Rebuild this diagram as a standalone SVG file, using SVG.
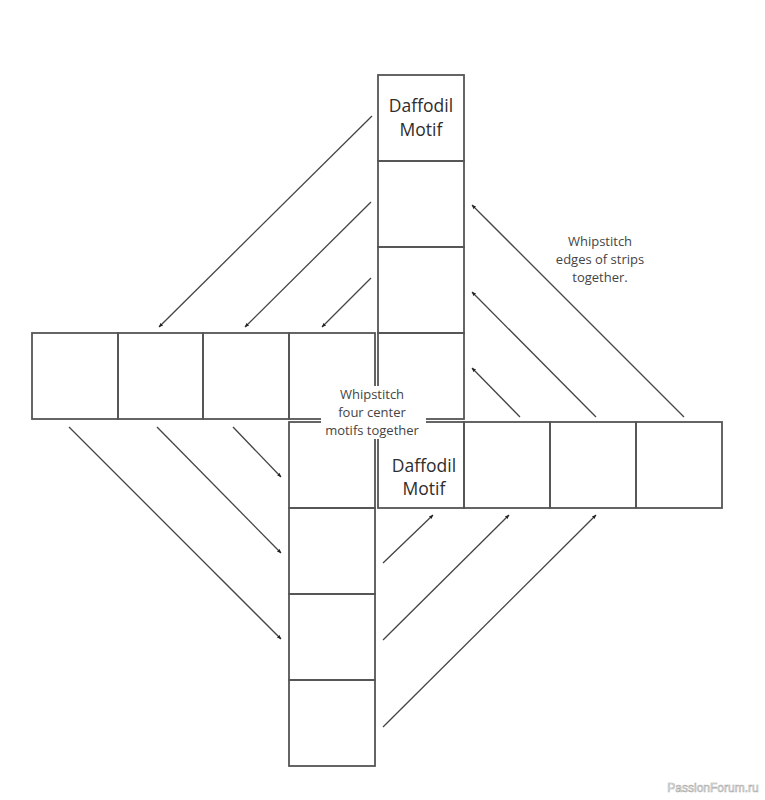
<svg xmlns="http://www.w3.org/2000/svg" width="765" height="800" viewBox="0 0 765 800">
<style>
.box{fill:none;stroke:#555;stroke-width:1.8}
.ln{stroke:#444;stroke-width:1.3;fill:none;marker-end:url(#ah)}
.lbl{font-family:"Open Sans","Liberation Sans",sans-serif;fill:#2e2e2e;text-anchor:middle}
.big{font-size:17.5px}
.sm{font-size:13px;fill:#444}
</style>
<defs>
<marker id="ah" viewBox="0 0 10 10" refX="9" refY="5" markerWidth="4.5" markerHeight="4.5" markerUnits="userSpaceOnUse" orient="auto">
<path d="M0,1 L10,5 L0,9 Z" fill="#222"/>
</marker>
</defs>
<rect width="765" height="800" fill="#fff"/>
<g id="top-strip">
<rect class="box" x="378" y="75" width="86" height="86"/>
<rect class="box" x="378" y="161" width="86" height="86"/>
<rect class="box" x="378" y="247" width="86" height="86"/>
<rect class="box" x="378" y="333" width="86" height="86"/>
<text class="lbl big" x="421" y="112">Daffodil</text>
<text class="lbl big" x="421" y="136">Motif</text>
</g>
<g id="left-strip">
<rect class="box" x="32" y="333" width="86" height="86"/>
<rect class="box" x="118" y="333" width="85" height="86"/>
<rect class="box" x="203" y="333" width="86" height="86"/>
<rect class="box" x="289" y="333" width="86" height="86"/>
</g>
<g id="right-strip">
<rect class="box" x="378" y="422" width="86" height="86"/>
<rect class="box" x="464" y="422" width="86" height="86"/>
<rect class="box" x="550" y="422" width="86" height="86"/>
<rect class="box" x="636" y="422" width="86" height="86"/>
<text class="lbl big" x="424" y="472">Daffodil</text>
<text class="lbl big" x="424" y="495">Motif</text>
</g>
<g id="bottom-strip">
<rect class="box" x="289" y="422" width="86" height="86"/>
<rect class="box" x="289" y="508" width="86" height="86"/>
<rect class="box" x="289" y="594" width="86" height="86"/>
<rect class="box" x="289" y="680" width="86" height="86"/>
</g>
<g id="center-note">
<rect x="321" y="386" width="105" height="53" fill="#fff"/>
<text class="lbl sm" x="372" y="399">Whipstitch</text>
<text class="lbl sm" x="372" y="417">four center</text>
<text class="lbl sm" x="372" y="435">motifs together</text>
</g>
<g id="edge-note">
<text class="lbl sm" x="600" y="246">Whipstitch</text>
<text class="lbl sm" x="600" y="264">edges of strips</text>
<text class="lbl sm" x="600" y="282">together.</text>
</g>
<g id="connectors">
<line class="ln" x1="372" y1="116" x2="159" y2="327"/>
<line class="ln" x1="371" y1="202" x2="245" y2="327"/>
<line class="ln" x1="371" y1="278" x2="322" y2="327"/>
<line class="ln" x1="684" y1="417" x2="472" y2="205"/>
<line class="ln" x1="596" y1="417" x2="472" y2="292"/>
<line class="ln" x1="520" y1="417" x2="472" y2="368"/>
<line class="ln" x1="69" y1="427" x2="281" y2="639"/>
<line class="ln" x1="157" y1="427" x2="281" y2="553"/>
<line class="ln" x1="233" y1="427" x2="281" y2="477"/>
<line class="ln" x1="383" y1="563" x2="433" y2="515"/>
<line class="ln" x1="383" y1="640" x2="509" y2="515"/>
<line class="ln" x1="383" y1="727" x2="596" y2="515"/>
</g>
<text x="713" y="792" font-family="Liberation Sans,sans-serif" font-size="12" fill="#fff" stroke="#aaa" stroke-width="0.6" text-anchor="middle">PassionForum.ru</text>
</svg>
